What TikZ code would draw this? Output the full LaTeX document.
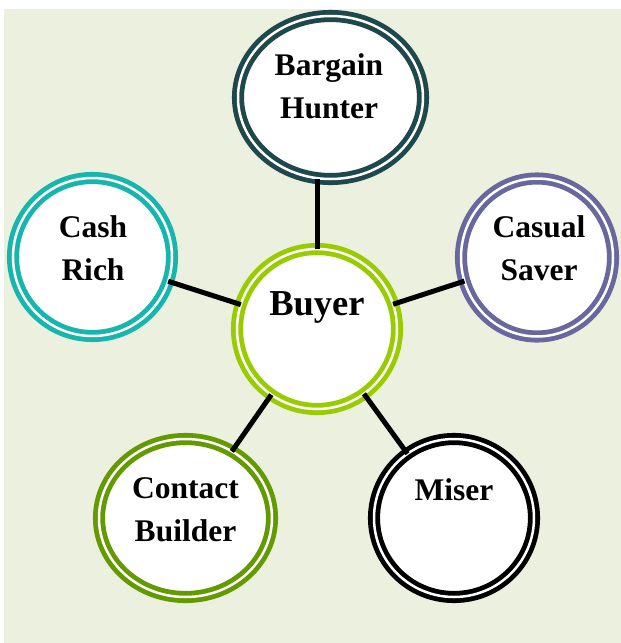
\documentclass[tikz,border=0pt]{standalone}
\usepackage{fontspec}
\setmainfont{Liberation Serif}
\usetikzlibrary{shapes.geometric}
\definecolor{bgc}{RGB}{235,241,222}
\definecolor{bhc}{RGB}{30,72,76}
\definecolor{cashc}{RGB}{22,182,172}
\definecolor{casualc}{RGB}{104,104,158}
\definecolor{buyerc}{RGB}{153,204,0}
\definecolor{cbc}{RGB}{98,154,0}
\definecolor{miserc}{RGB}{0,0,0}
\newcommand{\twoline}[2]{\begin{tabular}[t]{@{}c@{}}#1\\#2\end{tabular}}
\begin{document}
\begin{tikzpicture}[x=1pt,y=-1pt,
  ring/.style={ellipse, draw=#1, double=white, double distance=2.5pt, line width=4.8pt,
    fill=white, inner sep=0pt, outer sep=0pt},
  lbl/.style={anchor=base, font=\fontsize{31.5}{43}\selectfont\bfseries},
  conn/.style={line width=5pt, black}]
\useasboundingbox (0,0) rectangle (621,643);
\fill[bgc] (4,9) rectangle (621,643);
\node[ring=buyerc, minimum width=160pt, minimum height=160pt] (buyer) at (317,329) {};
\node[ring=bhc, minimum width=185pt, minimum height=163pt] (bh) at (330.5,97.5) {};
\node[ring=cashc, minimum width=159pt, minimum height=158pt] (cash) at (92.5,257) {};
\node[ring=casualc, minimum width=152pt, minimum height=158pt] (casual) at (537,257.5) {};
\node[ring=cbc, minimum width=173pt, minimum height=158pt] (cb) at (185.5,518) {};
\node[ring=miserc, minimum width=160pt, minimum height=158pt] (miser) at (454,518) {};
\draw[conn] (buyer) -- (cash);
\draw[conn] (buyer) -- (casual);
\draw[conn] (buyer) -- (cb);
\draw[conn] (buyer) -- (miser);
\draw[conn] (buyer.north) -- (buyer.north |- bh.south);
\node[lbl, font=\fontsize{36.5}{43}\selectfont\bfseries] (buyer-t) at (317,315) {Buyer};
\node[lbl] (bh-t) at (329,75) {\twoline{Bargain}{Hunter}};
\node[lbl] (cash-t) at (93,237) {\twoline{Cash}{Rich}};
\node[lbl] (casual-t) at (539,237) {\twoline{Casual}{Saver}};
\node[lbl] (cb-t) at (185.5,498) {\twoline{Contact}{Builder}};
\node[lbl] (miser-t) at (454,500) {Miser};
\end{tikzpicture}
\end{document}
